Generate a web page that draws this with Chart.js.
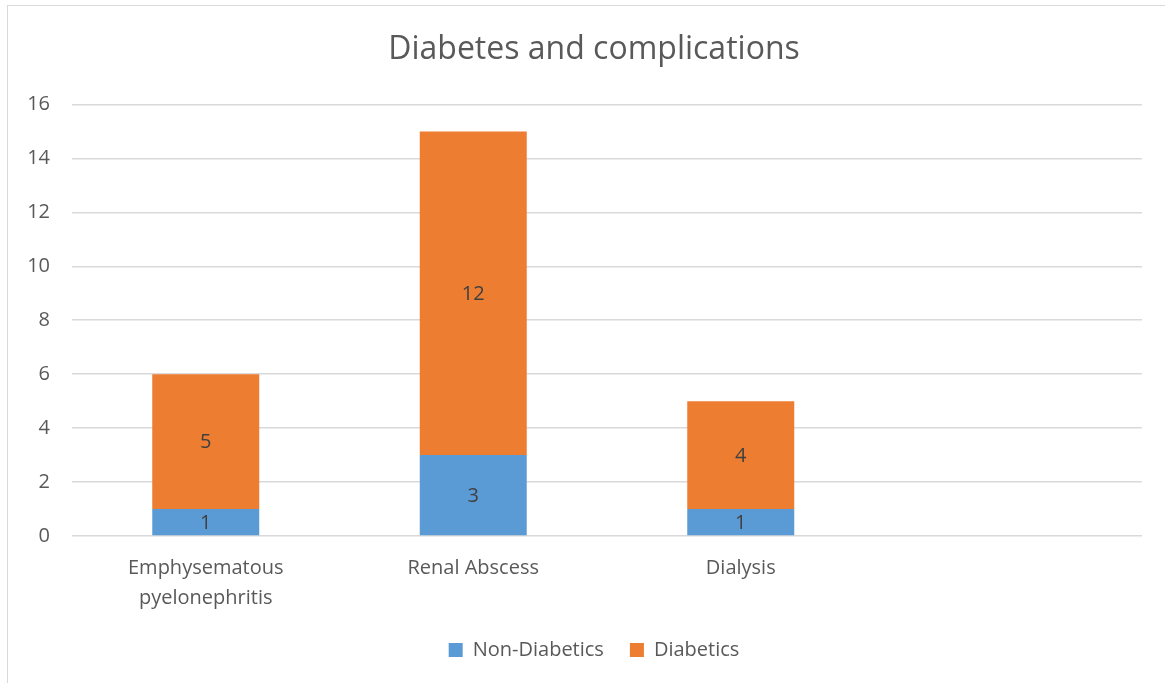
<!DOCTYPE html>
<html>
<head>
<meta charset="utf-8">
<script src="https://cdn.jsdelivr.net/npm/chart.js@4/dist/chart.umd.min.js"></script>
<style>
  html, body { margin: 0; padding: 0; background: #fff; overflow: hidden; }
  #frame {
    position: absolute; left: 7px; top: 5px; width: 1190px; height: 690px;
    border: 1.5px solid #d9d9d9; box-sizing: border-box; background: #fff;
  }
  #wrap { position: absolute; left: 1px; top: 1px; width: 1170px; height: 677px; }
</style>
</head>
<body>
<div id="frame"><div id="wrap"><canvas id="graph"></canvas></div></div>
<script>
// categories (last one is left empty on purpose)
const labels = [["Emphysematous", "pyelonephritis"], "Renal Abscess", "Dialysis", ""];
const nonDiabetic = [1, 3, 1, null];
const diabetic = [5, 12, 4, null];
const yTicks = [0, 2, 4, 6, 8, 10, 12, 14, 16];

const font = "'Open Sans', 'Liberation Sans', sans-serif";
const grey = '#595959';

// write each segment's value in the middle of its bar
const valueLabels = {
  id: 'valueLabels',
  afterDatasetsDraw(chart) {
    const ctx = chart.ctx;
    ctx.save();
    ctx.font = '20px ' + font;
    ctx.fillStyle = '#404040';
    ctx.textAlign = 'center';
    ctx.textBaseline = 'middle';
    chart.data.datasets.forEach(function(ds, i){
      chart.getDatasetMeta(i).data.forEach(function(bar, j){
        if (ds.data[j] == null) return;
        const mid = (bar.y + bar.base) / 2;
        ctx.fillText(ds.data[j], bar.x, mid + 1);
      });
    });
    ctx.restore();
  }
};

const data = {
  labels: labels,
  datasets: [
    { label: 'Non-Diabetics', data: nonDiabetic, backgroundColor: '#5b9bd5' },
    { label: 'Diabetics', data: diabetic, backgroundColor: '#ed7d31' }
  ]
};

new Chart(document.getElementById('graph'), {
  type: 'bar',
  data: data,
  options: {
    responsive: true,
    maintainAspectRatio: false,
    animation: false,
    datasets: { bar: { categoryPercentage: 0.4, barPercentage: 1 } },
    layout: { padding: { left: 0, right: 0, top: 0, bottom: 14 } },
    plugins: {
      title: {
        display: true,
        text: 'Diabetes and complications',
        color: grey,
        font: { family: font, size: 32, weight: 'normal' },
        padding: { top: 24, bottom: 35 }
      },
      legend: {
        position: 'bottom',
        labels: {
          color: grey,
          font: { family: font, size: 20 },
          boxWidth: 14, boxHeight: 14,
          padding: 26
        }
      },
      tooltip: { enabled: false }
    },
    scales: {
      x: {
        stacked: true,
        grid: { display: false },
        border: { display: false },
        ticks: { color: grey, font: { family: font, size: 20, lineHeight: 1.5 }, padding: 9, maxRotation: 0 },
        afterFit: function(scale){ scale.height = 78; }
      },
      y: {
        stacked: true,
        min: 0, max: 16,
        afterBuildTicks: function(scale){ scale.ticks = yTicks.map(v => ({ value: v })); },
        grid: { color: '#d9d9d9', lineWidth: 1.5, drawTicks: false },
        border: { display: false },
        ticks: { color: grey, font: { family: font, size: 20 }, padding: 22 },
        afterFit: function(scale){ scale.width = 63; }
      },
      // empty right-hand axis, only keeps a margin to the right of the plot
      gap: {
        position: 'right',
        grid: { display: false },
        border: { display: false },
        ticks: { display: false },
        afterFit: function(scale){ scale.width = 37; }
      }
    }
  },
  plugins: [valueLabels]
});
</script>
</body>
</html>
